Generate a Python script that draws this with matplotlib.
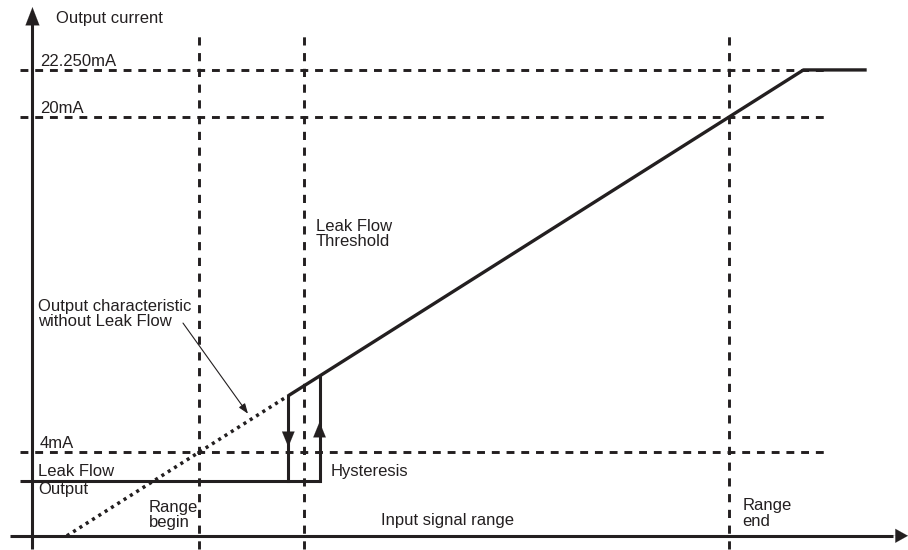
import matplotlib
matplotlib.use("Agg")
import matplotlib.pyplot as plt

# ---- data (input signal in % of range, output in mA) ----
level_values = [22.25, 20.0, 4.0]
level_labels = ["22.250mA", "20mA", "4mA"]
vline_positions = [0.0, 19.8, 100.0]          # range begin, leak flow threshold, range end
leak_level = 2.62                              # leak flow output (mA)
hyst_off = 16.8                                # switching back to leak flow output
hyst_on = 22.7                                 # leaving leak flow output
char_x = [16.8, 22.7, 114.06, 126.0]           # active output characteristic
char_y = [6.69, 7.63, 22.25, 22.25]
dotted_x = [-25.0, 16.8]                       # characteristic without leak flow
dotted_y = [0.0, 6.69]
leak_x = [-33.9, 16.8, 22.7]
leak_y = [leak_level, leak_level, leak_level]

INK = "#231f20"
FONT = ["Liberation Sans", "DejaVu Sans"]
FS = 11.95

fig = plt.figure(figsize=(9.08, 5.5), dpi=100)
ax = fig.add_axes([0, 0, 1, 1])
ax.set_xlim(-37.63, 133.8)
ax.set_ylim(-0.678, 25.59)
ax.axis("off")

dash = (0, (2.7, 2.35))
# horizontal dashed levels
for v in level_values:
    ax.plot([-33.9, 118.7], [v, v], color=INK, lw=2.1, ls=dash, zorder=1)
# vertical dashed lines
for v in vline_positions:
    ax.plot([v, v], [-0.63, 23.85], color=INK, lw=2.1, ls=(0, (2.8, 2.6)), zorder=1)

# axes with arrows
ax.plot([-35.8, 131.0], [0, 0], color=INK, lw=2.2, zorder=3, solid_capstyle="butt")
ax.annotate("", xy=(133.8, 0), xytext=(128.0, 0),
            arrowprops=dict(arrowstyle="-|>,head_length=9,head_width=5",
                            mutation_scale=1, color=INK, lw=0.1, shrinkA=0, shrinkB=0))
ax.plot([-31.5, -31.5], [-0.63, 24.6], color=INK, lw=2.2, zorder=3, solid_capstyle="butt")
ax.annotate("", xy=(-31.5, 25.25), xytext=(-31.5, 23.5),
            arrowprops=dict(arrowstyle="-|>,head_length=13,head_width=5",
                            mutation_scale=1, color=INK, lw=0.1, shrinkA=0, shrinkB=0))

# output characteristic
ax.plot(char_x, char_y, color=INK, lw=2.4, zorder=4, solid_capstyle="butt")
ax.plot(dotted_x, dotted_y, color=INK, lw=2.5, ls=(0, (0.9, 1.25)), zorder=4)
ax.plot(leak_x, leak_y, color=INK, lw=2.2, zorder=4, solid_capstyle="butt")
# hysteresis verticals
ax.plot([hyst_off, hyst_off], [dotted_y[-1], leak_level], color=INK, lw=2.2, zorder=4)
ax.plot([hyst_on, hyst_on], [char_y[1], leak_level], color=INK, lw=2.2, zorder=4)
ax.annotate("", xy=(hyst_off, 4.24), xytext=(hyst_off, 5.5),
            arrowprops=dict(arrowstyle="-|>,head_length=11,head_width=4.5",
                            mutation_scale=1, color=INK, lw=0.1, shrinkA=0, shrinkB=0))
ax.annotate("", xy=(hyst_on, 5.44), xytext=(hyst_on, 4.2),
            arrowprops=dict(arrowstyle="-|>,head_length=11,head_width=4.5",
                            mutation_scale=1, color=INK, lw=0.1, shrinkA=0, shrinkB=0))

# annotation pointer
ax.annotate("", xy=(9.19, 5.83), xytext=(-3.08, 10.16),
            arrowprops=dict(arrowstyle="-|>,head_length=6,head_width=2.2",
                            mutation_scale=1, color=INK, lw=0.8, shrinkA=0, shrinkB=0))

def txt(x, y, s, ha="left"):
    ax.text(x, y, s, ha=ha, va="center", fontsize=FS, family=FONT, color=INK,
            linespacing=1.05, zorder=5)

txt(-27.05, 24.73, "Output current")
label_pos = {"22.250mA": 22.64, "20mA": 20.42, "4mA": 4.42}
for lab in level_labels:
    txt(-30.1, label_pos[lab], lab)
txt(-30.45, 3.06, "Leak Flow")
txt(-30.45, 2.19, "Output")
txt(-30.45, 10.59, "Output characteristic\nwithout Leak Flow")
txt(22.0, 14.41, "Leak Flow\nThreshold")
txt(24.7, 3.05, "Hysteresis")
txt(-9.6, 0.99, "Range\nbegin")
txt(34.3, 0.72, "Input signal range")
txt(102.6, 1.06, "Range\nend")

fig.savefig("out.png", dpi=100)
